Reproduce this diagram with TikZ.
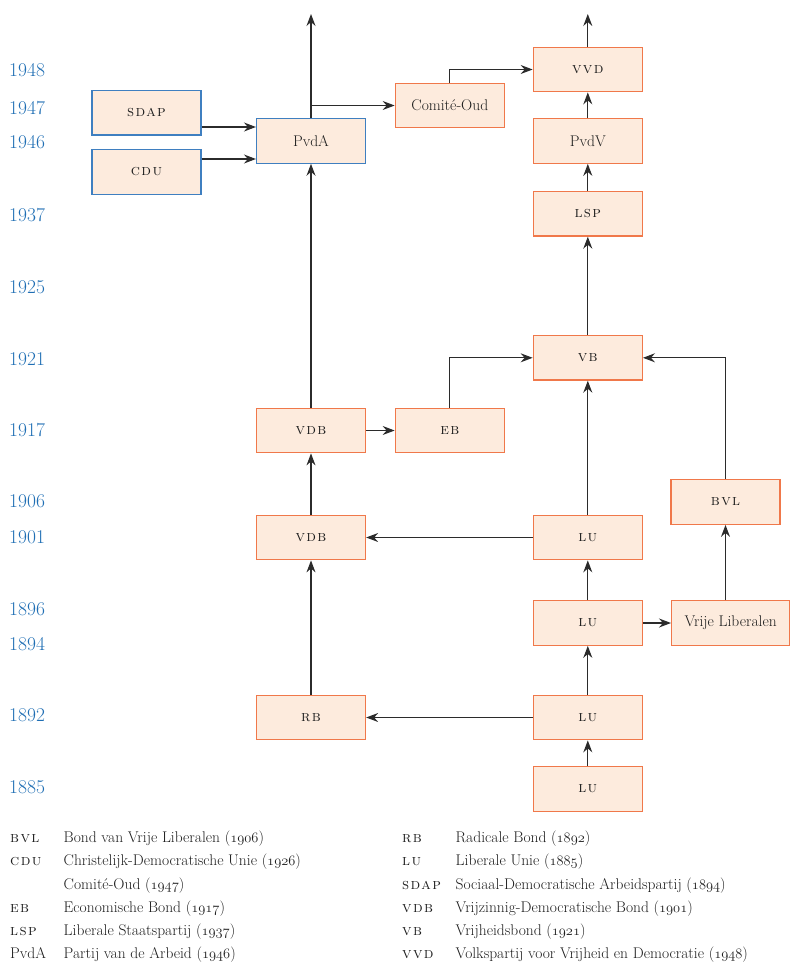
\documentclass[tikz,border=0pt]{standalone}
\usepackage{fontspec}
\usetikzlibrary{arrows.meta,calc}
\newfontfamily\scf{lmromancaps10-regular}[Extension=.otf,LetterSpace=9]
\definecolor{peach}{HTML}{FDEBDD}
\definecolor{orangeb}{HTML}{F0784A}
\definecolor{blueb}{HTML}{3F7FC0}
\definecolor{yearblue}{HTML}{1F6EB4}
\definecolor{linec}{HTML}{2B2B2B}
\definecolor{textc}{HTML}{1E1E1E}
\newcommand{\ab}[1]{{\scf #1}}
\newcommand{\osn}[1]{\ensuremath{\mathnormal{#1}}}
\tikzset{
  pbox/.style={draw=orangeb, fill=peach, line width=1.3pt, minimum width=109pt, minimum height=44.5pt, inner sep=6pt, text=textc, font=\fontsize{15.5}{18}\selectfont},
  bbox/.style={pbox, draw=blueb, line width=1.1pt},
  arr/.style={draw=linec, line width=1.2pt, -{Stealth[length=12pt,width=9pt,inset=4pt]}},
  yr/.style={anchor=base west, inner sep=0, text=yearblue, font=\fontsize{19.5}{22}\selectfont},
  lg/.style={anchor=base west, inner sep=0, text=textc, font=\fontsize{15.5}{18}\selectfont}
}
\begin{document}
\begin{tikzpicture}[x=1pt,y=-1pt]
\useasboundingbox (0,0) rectangle (790,972);
% years
\node[yr] (y1948) at (9,76.5) {1948};
\node[yr] (y1947) at (9,114) {1947};
\node[yr] (y1946) at (9,148) {1946};
\node[yr] (y1937) at (9,221.5) {1937};
\node[yr] (y1925) at (9,293) {1925};
\node[yr] (y1921) at (9,365) {1921};
\node[yr] (y1917) at (9,436.7) {1917};
\node[yr] (y1906) at (9,507.3) {1906};
\node[yr] (y1901) at (9,543) {1901};
\node[yr] (y1896) at (9,615) {1896};
\node[yr] (y1894) at (9,650) {1894};
\node[yr] (y1892) at (9,721.7) {1892};
\node[yr] (y1885) at (9,793) {1885};
% boxes
\node[bbox] (sdap) at (146.5,112.7) {\ab{sdap}};
\node[bbox] (cdu) at (146.5,171.8) {\ab{cdu}};
\node[bbox] (pvda) at (311,141) {PvdA};
\node[pbox] (como) at (449.8,105.5) {Comité-Oud};
\node[pbox] (vvd) at (587.8,69.5) {\ab{vvd}};
\node[pbox] (pvdv) at (587.8,141) {PvdV};
\node[pbox] (lsp) at (587.8,213.8) {\ab{lsp}};
\node[pbox] (vb) at (587.8,357.8) {\ab{vb}};
\node[pbox] (vdbb) at (311,430.5) {\ab{vdb}};
\node[pbox] (eb) at (449.8,430.5) {\ab{eb}};
\node[pbox] (bvl) at (725.5,502) {\ab{bvl}};
\node[pbox] (vdba) at (311,537.5) {\ab{vdb}};
\node[pbox] (lud) at (587.8,537.5) {\ab{lu}};
\node[pbox] (luc) at (587.8,623) {\ab{lu}};
\node[pbox, anchor=west, minimum width=118pt] (vl) at (671,623) {Vrije Liberalen};
\node[pbox] (rb) at (311,717.5) {\ab{rb}};
\node[pbox] (lub) at (587.8,717.5) {\ab{lu}};
\node[pbox] (lua) at (587.8,789) {\ab{lu}};
% free ends and side points
\coordinate (top1) at (311,14);
\coordinate (top2) at (587.8,14);
\coordinate (s1) at ([yshift=-14.3pt]sdap.east);
\coordinate (c1) at ([yshift=12.8pt]cdu.east);
% connectors
\draw[arr] (pvda.north) -- (top1);
\draw[arr] (pvda.north |- como.west) -- (como.west);
\draw[arr] (como.north) |- (vvd.west);
\draw[arr] (vvd.north) -- (top2);
\draw[arr] (pvdv.north) -- (vvd.south);
\draw[arr] (lsp.north) -- (pvdv.south);
\draw[arr] (vb.north) -- (lsp.south);
\draw[arr] (s1) -- (s1 -| pvda.west);
\draw[arr] (c1) -- (c1 -| pvda.west);
\draw[arr] (vdbb.north) -- (pvda.south);
\draw[arr] (vdbb.east) -- (eb.west);
\draw[arr] (eb.north) |- (vb.west);
\draw[arr] (bvl.north) |- (vb.east);
\draw[arr] (lud.north) -- (vb.south);
\draw[arr] (lud.west) -- (vdba.east);
\draw[arr] (vdba.north) -- (vdbb.south);
\draw[arr] (rb.north) -- (vdba.south);
\draw[arr] (luc.north) -- (lud.south);
\draw[arr] (luc.east) -- (vl.west);
\draw[arr] (vl.north -| bvl.south) -- (bvl.south);
\draw[arr] (lub.north) -- (luc.south);
\draw[arr] (lub.west) -- (rb.east);
\draw[arr] (lua.north) -- (lub.south);
% legend left
\node[lg] (la1) at (10,842.7) {\ab{bvl}};
\node[lg] (ld1) at (63.5,842.7) {Bond van Vrije Liberalen (\osn{1906})};
\node[lg] (la2) at (10,865.9) {\ab{cdu}};
\node[lg] (ld2) at (63.5,865.9) {Christelijk-Democratische Unie (\osn{1926})};
\node[lg] (ld3) at (63.5,889.1) {Comité-Oud (\osn{1947})};
\node[lg] (la4) at (10,912.3) {\ab{eb}};
\node[lg] (ld4) at (63.5,912.3) {Economische Bond (\osn{1917})};
\node[lg] (la5) at (10,935.5) {\ab{lsp}};
\node[lg] (ld5) at (63.5,935.5) {Liberale Staatspartij (\osn{1937})};
\node[lg] (la6) at (10,958.7) {PvdA};
\node[lg] (ld6) at (63.5,958.7) {Partij van de Arbeid (\osn{1946})};
% legend right
\node[lg] (ra1) at (402,842.7) {\ab{rb}};
\node[lg] (rd1) at (455.5,842.7) {Radicale Bond (\osn{1892})};
\node[lg] (ra2) at (402,865.9) {\ab{lu}};
\node[lg] (rd2) at (455.5,865.9) {Liberale Unie (\osn{1885})};
\node[lg] (ra3) at (402,889.1) {\ab{sdap}};
\node[lg] (rd3) at (455.5,889.1) {Sociaal-Democratische Arbeidspartij (\osn{1894})};
\node[lg] (ra4) at (402,912.3) {\ab{vdb}};
\node[lg] (rd4) at (455.5,912.3) {Vrijzinnig-Democratische Bond (\osn{1901})};
\node[lg] (ra5) at (402,935.5) {\ab{vb}};
\node[lg] (rd5) at (455.5,935.5) {Vrijheidsbond (\osn{1921})};
\node[lg] (ra6) at (402,958.7) {\ab{vvd}};
\node[lg] (rd6) at (455.5,958.7) {Volkspartij voor Vrijheid en Democratie (\osn{1948})};
\end{tikzpicture}
\end{document}
